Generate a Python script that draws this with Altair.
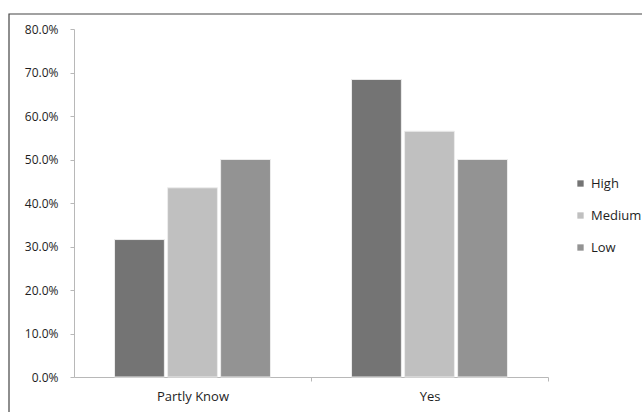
import altair as alt
import pandas as pd

# Survey answers grouped by level
answers = ["Partly Know", "Yes"]
levels = ["High", "Medium", "Low"]
high = [0.316, 0.684]
medium = [0.435, 0.565]
low = [0.500, 0.500]

level_colors = ["#747474", "#c0c0c0", "#939393"]
y_ticks = [0.0, 0.1, 0.2, 0.3, 0.4, 0.5, 0.6, 0.7, 0.8]

rows = []
for i, ans in enumerate(answers):
    for lvl, vals in zip(levels, [high, medium, low]):
        rows.append({"answer": ans, "level": lvl, "share": vals[i]})
df = pd.DataFrame(rows)

FONT = "Open Sans"
TEXT = "#1e1e1e"
AXIS = "#b8b8b8"
HALF_STEP = 118.5  # half of a category band, to put ticks between categories

bars = alt.Chart(df).mark_bar(stroke="#ececec", strokeWidth=1).encode(
    x=alt.X(
        "answer:N",
        sort=answers,
        title=None,
        scale=alt.Scale(paddingInner=0.342, paddingOuter=0.171),
        axis=alt.Axis(
            labelAngle=0,
            labelFont=FONT,
            labelFontSize=13,
            labelColor=TEXT,
            labelPadding=9,
            labelOffset=-HALF_STEP,
            domainColor=AXIS,
            tickColor=AXIS,
            tickOffset=HALF_STEP,
            tickSize=4,
        ),
    ),
    xOffset=alt.XOffset("level:N", sort=levels, scale=alt.Scale(paddingInner=0.06)),
    y=alt.Y(
        "share:Q",
        title=None,
        scale=alt.Scale(domain=[0, 0.8], nice=False),
        axis=alt.Axis(
            values=y_ticks,
            format=".1%",
            grid=False,
            labelFont=FONT,
            labelFontSize=12,
            labelColor=TEXT,
            labelPadding=12,
            domainColor=AXIS,
            tickColor=AXIS,
            tickSize=4,
        ),
    ),
    color=alt.Color(
        "level:N",
        sort=levels,
        scale=alt.Scale(domain=levels, range=level_colors),
        legend=alt.Legend(
            title=None,
            orient="none",
            legendX=500,
            legendY=148,
            symbolType="square",
            symbolSize=40,
            symbolStrokeWidth=0,
            labelFont=FONT,
            labelFontSize=13,
            labelColor=TEXT,
            rowPadding=18,
            labelOffset=4,
        ),
    ),
)

# Outer frame around the whole figure
frame = alt.Chart(pd.DataFrame({"k": [0]})).mark_rect(
    fill="transparent", stroke="#444444", strokeWidth=1.2
).encode(
    x=alt.value(-65), x2=alt.value(600), y=alt.value(-15), y2=alt.value(400)
)

chart = (
    alt.layer(frame, bars)
    .properties(
        width=474,
        height=348,
        background="white",
        autosize=alt.AutoSizeParams(type="none"),
        padding={"left": 74, "top": 29, "right": 94, "bottom": 35},
    )
    .configure_view(strokeWidth=0, stroke="transparent")
)

chart.save("out.html", embed_options={"renderer": "svg", "actions": False})
